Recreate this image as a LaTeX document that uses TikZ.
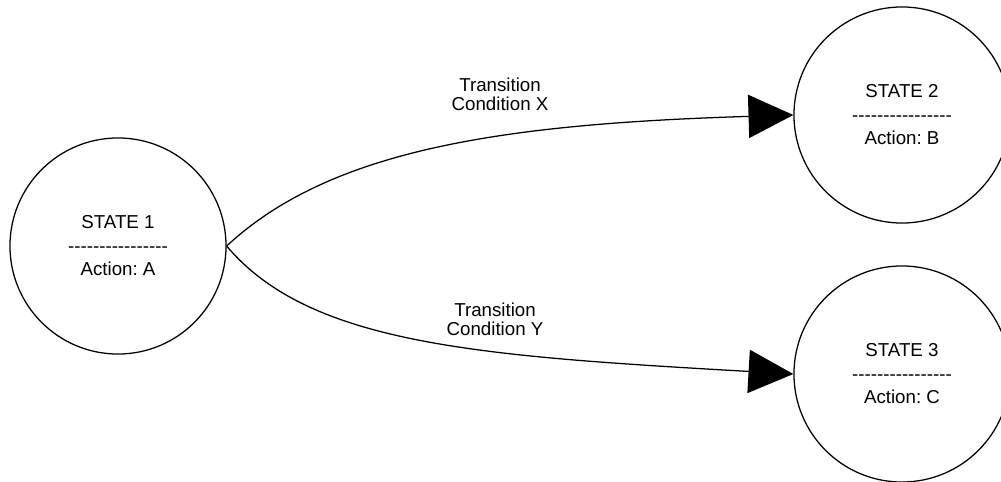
\documentclass[tikz,border=0pt]{standalone}
\usepackage{fontspec}
\setmainfont{Liberation Sans}
\usepackage{tikz}
\usetikzlibrary{arrows.meta}
\frenchspacing

% row of plain hyphens under the state name
\newcommand\statesep{\foreach \k in {1,...,16}{-\kern0pt}}

\begin{document}
\begin{tikzpicture}[x=0.025cm, y=-0.025cm,
    state/.style={draw, circle, line width=0.9pt, minimum size=5.4cm, align=center,
        font=\fontsize{13.3}{16.7}\selectfont},
    trans/.style={line width=0.9pt, -{Triangle[length=1.12cm, width=1.08cm]}},
    cond/.style={align=center, font=\fontsize{13.3}{13.5}\selectfont}]
    \useasboundingbox (0,0) rectangle (1001,481);

    \node[state] (s1) at (118,246) {STATE 1\\ \statesep\\ Action: A};
    \node[state] (s2) at (902,115) {STATE 2\\ \statesep\\ Action: B};
    \node[state] (s3) at (902,374) {STATE 3\\ \statesep\\ Action: C};

    \node[cond] (cx) at (500,94) {Transition\\Condition X};
    \node[cond] (cy) at (495,319) {Transition\\Condition Y};

    \draw[trans] (s1.east) .. controls (330,150) and (500,124) .. (s2.west);
    \draw[trans] (s1.east) .. controls (310,345) and (480,356) .. (s3.west);
\end{tikzpicture}
\end{document}
